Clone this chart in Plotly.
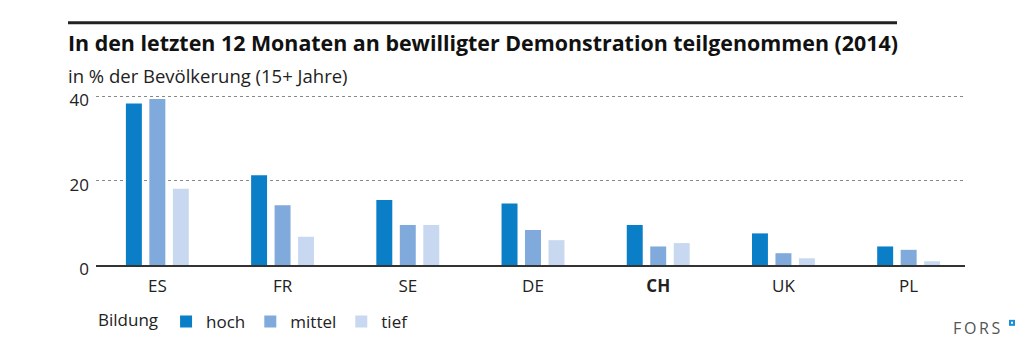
import plotly.graph_objects as go

countries = ["ES", "FR", "SE", "DE", "CH", "UK", "PL"]
country_labels = ["ES", "FR", "SE", "DE", "<b>CH</b>", "UK", "PL"]
hoch = [38.3, 21.3, 15.4, 14.6, 9.5, 7.5, 4.4]
mittel = [39.4, 14.2, 9.5, 8.3, 4.4, 2.8, 3.6]
tief = [18.1, 6.7, 9.5, 5.9, 5.2, 1.6, 0.9]
series_names = ["hoch", "mittel", "tief"]
colors = ["#0b7ec8", "#80a9dc", "#c9d8f1"]
y_ticks = [0, 20, 40]

FONT = "Open Sans"
TXT = "#222222"

fig = go.Figure()
for name, vals, col in zip(series_names, [hoch, mittel, tief], colors):
    fig.add_trace(go.Bar(name=name, x=countries, y=vals, marker=dict(color=col, line=dict(width=0))))

H_PLOT = 177.5
W_PLOT = 869
def py(p):
    return (265 - p) / H_PLOT
def px(p):
    return (p - 96) / W_PLOT

fig.update_layout(
    width=1035, height=357,
    margin=dict(l=96, r=70, t=357 - 92 - H_PLOT, b=92, autoexpand=False),
    paper_bgcolor="white", plot_bgcolor="white",
    barmode="group", bargap=0.4375, bargroupgap=0.32,
    font=dict(family=FONT, size=17, color=TXT),
    showlegend=True,
    legend=dict(
        orientation="h", x=px(96), xanchor="left", y=py(322), yanchor="middle",
        title=dict(text="Bildung", font=dict(size=17, color=TXT)),
        font=dict(size=17, color=TXT), itemclick=False, bgcolor="rgba(0,0,0,0)",
    ),
    xaxis=dict(
        type="category", categoryorder="array", categoryarray=countries,
        tickmode="array", tickvals=countries, ticktext=country_labels,
        range=[-0.49, 6.45], showgrid=False, zeroline=False,
        showline=True, linecolor="#333333", linewidth=2, ticks="",
        tickfont=dict(size=17, color=TXT), ticklabelstandoff=5,
    ),
    yaxis=dict(
        range=[0, 42], tickmode="array", tickvals=y_ticks,
        showgrid=True, gridcolor="#888888", griddash="dot", gridwidth=1,
        zeroline=False, showline=False, ticks="",
        tickfont=dict(size=17, color=TXT), ticklabelstandoff=6, ticklabelshift=4,
    ),
    annotations=[
        dict(text="<b>In den letzten 12 Monaten an bewilligter Demonstration teilgenommen (2014)</b>",
             xref="paper", yref="paper", x=px(66), y=py(42), xanchor="left", yanchor="middle",
             showarrow=False, font=dict(size=21.4, color="#111111", family=FONT)),
        dict(text="in % der Bevölkerung (15+ Jahre)",
             xref="paper", yref="paper", x=px(66), y=py(75), xanchor="left", yanchor="middle",
             showarrow=False, font=dict(size=18.5, color=TXT, family=FONT)),
        dict(text="F\u2009O\u2009R\u2009S",
             xref="paper", yref="paper", x=px(1003), y=py(328), xanchor="right", yanchor="middle",
             showarrow=False, font=dict(size=16, color="#555555", family=FONT)),
    ],
    shapes=[
        dict(type="line", xref="paper", yref="paper", x0=px(68), x1=px(897),
             y0=py(22), y1=py(22), line=dict(color="#222222", width=3)),
        dict(type="rect", xref="paper", yref="paper", x0=px(1009), x1=px(1015),
             y0=py(326), y1=py(320), fillcolor="#1a8fd6", line=dict(width=0)),
        dict(type="rect", xref="paper", yref="paper", x0=px(1011), x1=px(1013),
             y0=py(324), y1=py(322), fillcolor="white", line=dict(width=0)),
    ],
)

fig.write_html("out.html", config={"displayModeBar": False},
               post_script="document.body.style.margin='0';document.body.style.overflow='hidden';")
